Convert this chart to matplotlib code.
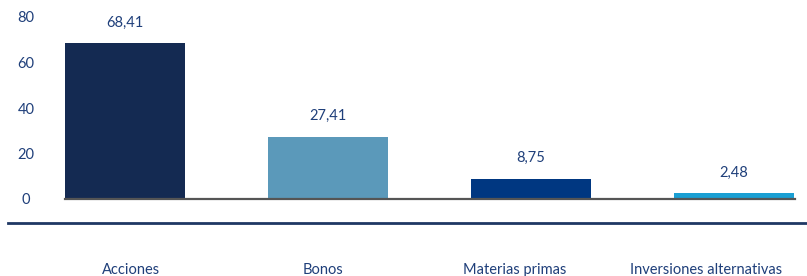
import matplotlib
matplotlib.use("Agg")
import matplotlib.pyplot as plt
import numpy as np
from matplotlib.lines import Line2D

categories = ['Acciones', 'Bonos', 'Materias primas', 'Inversiones alternativas']
values = [68.41, 27.41, 8.75, 2.48]
bar_colors = ['#142a52', '#5b99ba', '#003781', '#1a9fd3']
yticks = [0, 20, 40, 60, 80]

text_color = '#1f3f7a'
plt.rcParams['font.family'] = ['Lato', 'DejaVu Sans']
fs = 10.5

fig = plt.figure(figsize=(8.07, 2.76), dpi=100)
W, H = 807, 276
ax = fig.add_axes([65 / W, 77 / H, 730 / W, 182 / H])

x = np.arange(len(categories))
bars = ax.bar(x, values, width=0.59, color=bar_colors, zorder=2)

for rect, v in zip(bars, values):
    ax.annotate(f'{v:.2f}'.replace('.', ','),
                (rect.get_x() + rect.get_width() / 2, rect.get_height()),
                xytext=(0, 10), textcoords='offset points',
                ha='center', va='bottom', fontsize=fs, color=text_color)

ax.set_xlim(-0.296, 3.3)
ax.set_ylim(0, 80)
ax.set_yticks(yticks)
ax.set_yticklabels([str(t) for t in yticks], fontsize=fs, color=text_color, ha='center')
ax.tick_params(axis='y', length=0, pad=28)
ax.set_xticks([])

for s in ['top', 'right', 'left']:
    ax.spines[s].set_visible(False)
ax.spines['bottom'].set_color('#555555')
ax.spines['bottom'].set_linewidth(1.6)
ax.spines['bottom'].set_zorder(3)

# category axis below, with its own separator line
ax2 = fig.add_axes([35 / W, 1 - 223 / H, 767 / W, 0.001])
ax2.set_xlim(-0.5, 3.5)
ax2.set_xticks(x)
ax2.set_xticklabels(categories, fontsize=fs, color=text_color)
ax2.tick_params(axis='x', length=0, pad=29)
ax2.set_yticks([])
for s in ax2.spines.values():
    s.set_visible(False)
ax2.patch.set_visible(False)

fig.add_artist(Line2D([8 / W, 1.0], [1 - 223 / H, 1 - 223 / H],
                      color='#1f3864', linewidth=2.0))

plt.savefig("out.png", dpi=100)
